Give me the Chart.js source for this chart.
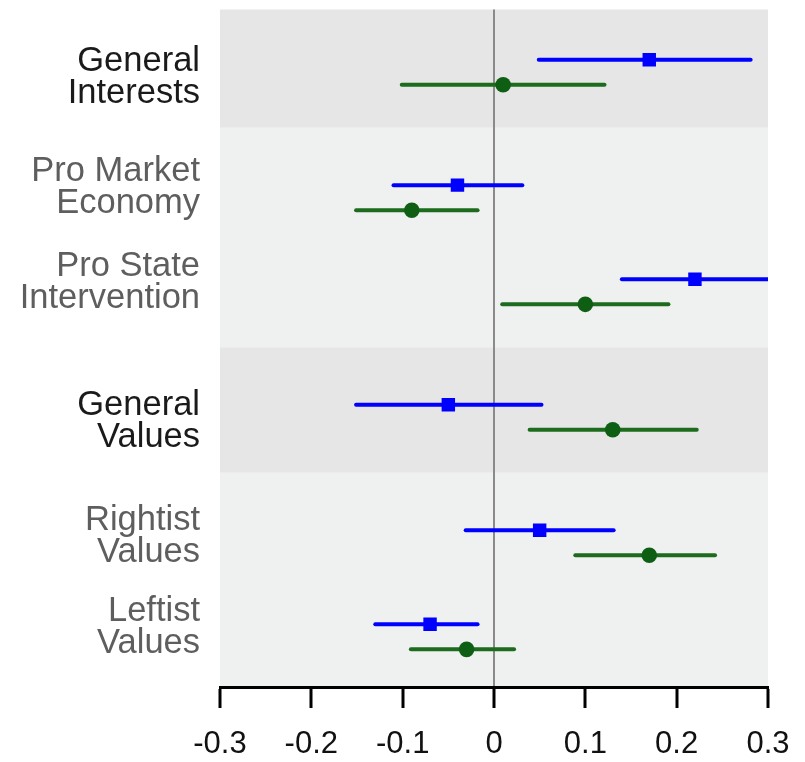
<!DOCTYPE html>
<html>
<head>
<meta charset="utf-8">
<script src="https://cdn.jsdelivr.net/npm/chart.js@4.4.1/dist/chart.umd.min.js"></script>
<style>
  html, body { margin: 0; padding: 0; background: #ffffff; }
  #wrap { width: 805px; height: 762px; }
</style>
</head>
<body>
<div id="wrap"><canvas id="c" width="805" height="762"></canvas></div>
<script>
// ---- data ----
const rowLabels = [
  ['General', 'Interests'],
  ['Pro Market', 'Economy'],
  ['Pro State', 'Intervention'],
  ['General', 'Values'],
  ['Rightist', 'Values'],
  ['Leftist', 'Values']
];
const rowIsGeneral = [true, false, false, true, false, false];
const rowPos   = [2, 6, 9, 13, 17, 20];
const labelPos = [2.16, 5.68, 8.69, 13.14, 16.79, 19.71];

const blueEst = [0.17, -0.04, 0.22, -0.05, 0.05, -0.07];
const blueLo  = [0.049, -0.110, 0.140, -0.151, -0.031, -0.130];
const blueHi  = [0.281, 0.031, 0.300, 0.052, 0.131, -0.018];

const greenEst = [0.01, -0.09, 0.10, 0.13, 0.17, -0.03];
const greenLo  = [-0.101, -0.151, 0.009, 0.039, 0.089, -0.091];
const greenHi  = [0.121, -0.018, 0.191, 0.222, 0.242, 0.022];

const xTicks = [-0.3, -0.2, -0.1, 0, 0.1, 0.2, 0.3];
const xTickLabels = ['-0.3', '-0.2', '-0.1', '0', '0.1', '0.2', '0.3'];

const bandStart = [0, 3.77, 10.77, 14.77];
const bandEnd   = [3.77, 10.77, 14.77, 21.6];
const bandDark  = [true, false, true, false];

// ---- styling ----
const BLUE = '#0000ff';
const GREEN_LINE = '#1d6b1d';
const GREEN_PT = '#0e5e14';
const OFF = 0.4;

const datasets = [];
datasets.push({
  type: 'scatter', label: 'blue',
  data: rowPos.map((p, i) => ({ x: blueEst[i], y: p - OFF })),
  pointStyle: 'rect', pointRadius: 9.5, pointHoverRadius: 9.5,
  backgroundColor: BLUE, borderColor: BLUE, borderWidth: 0
});
datasets.push({
  type: 'scatter', label: 'green',
  data: rowPos.map((p, i) => ({ x: greenEst[i], y: p + OFF })),
  pointStyle: 'circle', pointRadius: 7.8, pointHoverRadius: 7.8,
  backgroundColor: GREEN_PT, borderColor: GREEN_PT, borderWidth: 0
});
rowPos.forEach((p, i) => {
  datasets.push({
    type: 'line', label: 'blueCI' + i,
    data: [{ x: blueLo[i], y: p - OFF }, { x: blueHi[i], y: p - OFF }],
    borderColor: BLUE, borderWidth: 4, pointRadius: 0, borderCapStyle: 'round'
  });
  datasets.push({
    type: 'line', label: 'greenCI' + i,
    data: [{ x: greenLo[i], y: p + OFF }, { x: greenHi[i], y: p + OFF }],
    borderColor: GREEN_LINE, borderWidth: 4, pointRadius: 0, borderCapStyle: 'round'
  });
});

const bandsPlugin = {
  id: 'bands',
  beforeDraw(chart) {
    const { ctx, chartArea, scales } = chart;
    const y = scales.y;
    ctx.save();
    for (let i = 0; i < bandStart.length; i++) {
      const y0 = y.getPixelForValue(bandStart[i]);
      const y1 = y.getPixelForValue(bandEnd[i]);
      ctx.fillStyle = bandDark[i] ? '#e6e6e6' : '#eff0f0';
      ctx.fillRect(chartArea.left, Math.min(y0, y1), chartArea.right - chartArea.left, Math.abs(y1 - y0));
    }
    ctx.restore();
  }
};

new Chart(document.getElementById('c'), {
  data: { datasets },
  plugins: [bandsPlugin],
  options: {
    responsive: false,
    animation: false,
    events: [],
    layout: { padding: { top: 8, right: 37, left: 0, bottom: 0 } },
    plugins: { legend: { display: false }, tooltip: { enabled: false } },
    scales: {
      x: {
        type: 'linear', min: -0.3, max: 0.3,
        afterBuildTicks(scale) { scale.ticks = xTicks.map(v => ({ value: v })); },
        afterFit(scale) { scale.height = 75; scale.paddingLeft = 0; scale.paddingRight = 0; },
        ticks: {
          callback: (v, i) => xTickLabels[i],
          font: { family: '"Liberation Sans", Arial, sans-serif', size: 31 },
          color: '#111111', padding: 18, maxRotation: 0, autoSkip: false
        },
        grid: {
          drawOnChartArea: true,
          color: ctx => (ctx.tick && ctx.tick.value === 0) ? '#8a8a8a' : 'rgba(0,0,0,0)',
          lineWidth: 2,
          tickColor: '#000000', tickWidth: 3, tickLength: 21
        },
        border: { display: true, color: '#000000', width: 3 }
      },
      y: {
        type: 'linear', reverse: true, min: 0, max: 21.6,
        afterBuildTicks(scale) { scale.ticks = labelPos.map(v => ({ value: v })); },
        afterFit(scale) { scale.width = 220; scale.paddingTop = 0; scale.paddingBottom = 0; },
        ticks: {
          callback: (v, i) => rowLabels[i],
          font: { family: '"Liberation Sans", Arial, sans-serif', size: 34.5, lineHeight: 0.93 },
          color: ctx => rowIsGeneral[ctx.index] ? '#1a1a1a' : '#5e5e5e',
          padding: 20, autoSkip: false
        },
        grid: { display: false, drawTicks: false },
        border: { display: false }
      }
    }
  }
});
</script>
</body>
</html>
